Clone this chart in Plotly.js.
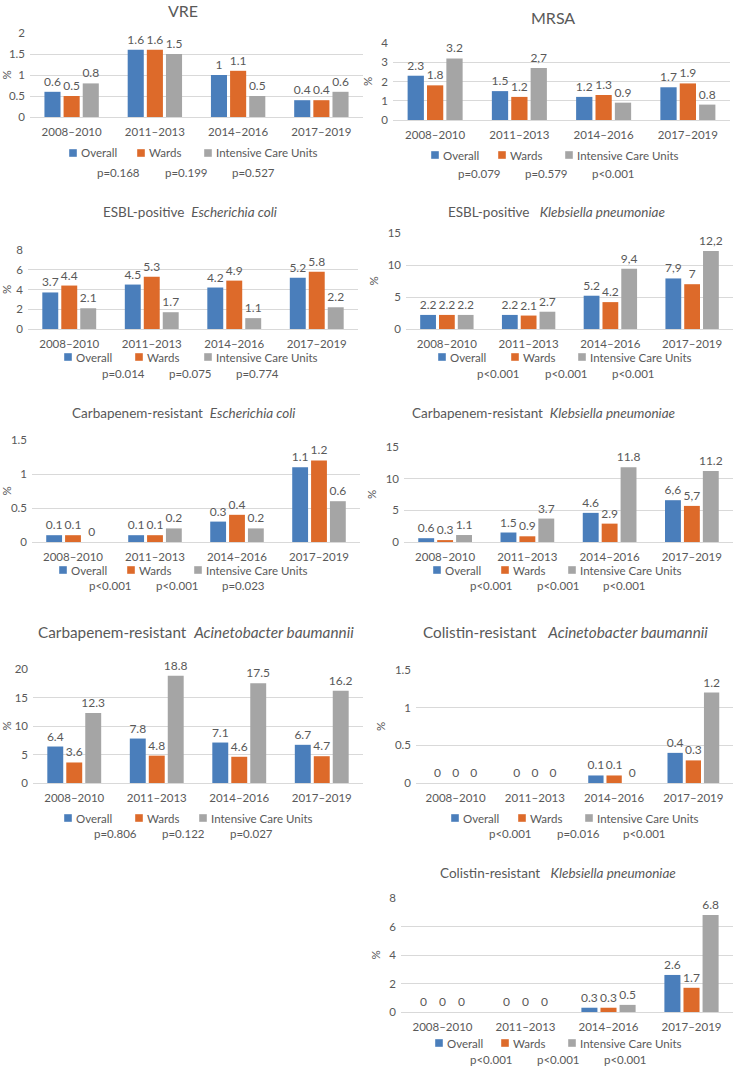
<!DOCTYPE html>
<html><head><meta charset="utf-8">
<script src="https://cdn.plot.ly/plotly-3.0.1.min.js"></script>
<style>html,body{margin:0;padding:0;background:#fff}#chart{width:733px;height:1066px}</style>
</head><body><div id="chart"></div>
<script>
// ---------- data ----------
const periods = ['2008–2010', '2011–2013', '2014–2016', '2017–2019'];
const seriesNames = ['Overall', 'Wards', 'Intensive Care Units'];

const vreOverall = [0.6, 1.6, 1.0, 0.4];
const vreWards   = [0.5, 1.6, 1.1, 0.4];
const vreIcu     = [0.8, 1.5, 0.5, 0.6];
const vreP = ['p=0.168', 'p=0.199', 'p=0.527'];

const mrsaOverall = [2.3, 1.5, 1.2, 1.7];
const mrsaWards   = [1.8, 1.2, 1.3, 1.9];
const mrsaIcu     = [3.2, 2.7, 0.9, 0.8];
const mrsaIcuLabels = ['3.2', '2,7', '0.9', '0.8'];
const mrsaP = ['p=0.079', 'p=0.579', 'p<0.001'];

const esblEcOverall = [3.7, 4.5, 4.2, 5.2];
const esblEcWards   = [4.4, 5.3, 4.9, 5.8];
const esblEcIcu     = [2.1, 1.7, 1.1, 2.2];
const esblEcP = ['p=0.014', 'p=0.075', 'p=0.774'];

const esblKpOverall = [2.2, 2.2, 5.2, 7.9];
const esblKpWards   = [2.2, 2.1, 4.2, 7.0];
const esblKpIcu     = [2.2, 2.7, 9.4, 12.2];
const esblKpOverallLabels = ['2.2', '2.2', '5.2', '7,9'];
const esblKpWardsLabels   = ['2.2', '2.1', '4.2', '7'];
const esblKpIcuLabels     = ['2.2', '2.7', '9,4', '12,2'];
const esblKpP = ['p<0.001', 'p<0.001', 'p<0.001'];

const crEcOverall = [0.1, 0.1, 0.3, 1.1];
const crEcWards   = [0.1, 0.1, 0.4, 1.2];
const crEcIcu     = [0.0, 0.2, 0.2, 0.6];
const crEcP = ['p<0.001', 'p<0.001', 'p=0.023'];

const crKpOverall = [0.6, 1.5, 4.6, 6.6];
const crKpWards   = [0.3, 0.9, 2.9, 5.7];
const crKpIcu     = [1.1, 3.7, 11.8, 11.2];
const crKpOverallLabels = ['0.6', '1.5', '4.6', '6,6'];
const crKpWardsLabels   = ['0.3', '0.9', '2.9', '5,7'];
const crKpP = ['p<0.001', 'p<0.001', 'p<0.001'];

const crAbOverall = [6.4, 7.8, 7.1, 6.7];
const crAbWards   = [3.6, 4.8, 4.6, 4.7];
const crAbIcu     = [12.3, 18.8, 17.5, 16.2];
const crAbP = ['p=0.806', 'p=0.122', 'p=0.027'];

const colAbOverall = [0, 0, 0.1, 0.4];
const colAbWards   = [0, 0, 0.1, 0.3];
const colAbIcu     = [0, 0, 0, 1.2];
const colAbP = ['p<0.001', 'p=0.016', 'p<0.001'];

const colKpOverall = [0, 0, 0.3, 2.6];
const colKpWards   = [0, 0, 0.3, 1.7];
const colKpIcu     = [0, 0, 0.5, 6.8];
const colKpP = ['p<0.001', 'p<0.001', 'p<0.001'];

const NB = '\u00a0';
const panelTitles = [
  'VRE',
  'MRSA',
  'ESBL-positive' + NB + NB + '<i>Escherichia coli</i>',
  'ESBL-positive' + NB + NB + NB + '<i>Klebsiella pneumoniae</i>',
  'Carbapenem-resistant' + NB + NB + '<i>Escherichia coli</i>',
  'Carbapenem-resistant' + NB + NB + '<i>Klebsiella pneumoniae</i>',
  'Carbapenem-resistant' + NB + NB + '<i>Acinetobacter baumannii</i>',
  'Colistin-resistant' + NB + NB + NB + '<i>Acinetobacter baumannii</i>',
  'Colistin-resistant' + NB + NB + NB + '<i>Klebsiella pneumoniae</i>'
];

const fmt = a => a.map(v => String(v));
const panels = [
  {series: [vreOverall, vreWards, vreIcu], labels: [fmt(vreOverall), fmt(vreWards), fmt(vreIcu)], ymax: 2, dtick: 0.5, p: vreP},
  {series: [mrsaOverall, mrsaWards, mrsaIcu], labels: [fmt(mrsaOverall), fmt(mrsaWards), mrsaIcuLabels], ymax: 4, dtick: 1, p: mrsaP},
  {series: [esblEcOverall, esblEcWards, esblEcIcu], labels: [fmt(esblEcOverall), fmt(esblEcWards), fmt(esblEcIcu)], ymax: 8, dtick: 2, p: esblEcP},
  {series: [esblKpOverall, esblKpWards, esblKpIcu], labels: [esblKpOverallLabels, esblKpWardsLabels, esblKpIcuLabels], ymax: 15, dtick: 5, p: esblKpP},
  {series: [crEcOverall, crEcWards, crEcIcu], labels: [fmt(crEcOverall), fmt(crEcWards), fmt(crEcIcu)], ymax: 1.5, dtick: 0.5, p: crEcP},
  {series: [crKpOverall, crKpWards, crKpIcu], labels: [crKpOverallLabels, crKpWardsLabels, fmt(crKpIcu)], ymax: 15, dtick: 5, p: crKpP},
  {series: [crAbOverall, crAbWards, crAbIcu], labels: [fmt(crAbOverall), fmt(crAbWards), fmt(crAbIcu)], ymax: 20, dtick: 5, p: crAbP},
  {series: [colAbOverall, colAbWards, colAbIcu], labels: [fmt(colAbOverall), fmt(colAbWards), fmt(colAbIcu)], ymax: 1.5, dtick: 0.5, p: colAbP},
  {series: [colKpOverall, colKpWards, colKpIcu], labels: [fmt(colKpOverall), fmt(colKpWards), fmt(colKpIcu)], ymax: 8, dtick: 2, p: colKpP}
];

// ---------- geometry (pixels) ----------
const W = 733, H = 1066;
const frames = [
  {l: 30,  r: 363, t: 33,  b: 117,  tx: 183, ty: 10,  ts: 16,   lx: [73, 141, 208], ly: 153,  px: [118, 186, 253], py: 172},
  {l: 393, r: 730, t: 43,  b: 120,  tx: 553, ty: 17,  ts: 16,   lx: [435, 502, 569], ly: 155,  px: [479, 546, 613], py: 173},
  {l: 28,  r: 358, t: 250, b: 329,  tx: 190, ty: 212, ts: 13.5, lx: [68, 139, 208],  ly: 357,  px: [123, 190, 257], py: 373},
  {l: 406, r: 733, t: 233, b: 329,  tx: 556, ty: 212, ts: 13.5, lx: [442, 515, 582], ly: 357,  px: [498, 566, 633], py: 373},
  {l: 32,  r: 360, t: 440, b: 542,  tx: 183, ty: 413, ts: 13.5, lx: [63, 131, 198],  ly: 570,  px: [110, 177, 243], py: 585},
  {l: 404, r: 733, t: 447, b: 542,  tx: 543, ty: 413, ts: 13.5, lx: [437, 505, 572], ly: 570,  px: [491, 558, 624], py: 585},
  {l: 33,  r: 363, t: 669, b: 783,  tx: 196, ty: 632, ts: 15.3, lx: [68, 139, 203],  ly: 818,  px: [115, 183, 251], py: 833},
  {l: 416, r: 733, t: 670, b: 783,  tx: 565, ty: 632, ts: 15.3, lx: [455, 522, 589], ly: 818,  px: [510, 578, 644], py: 833},
  {l: 401, r: 733, t: 898, b: 1012, tx: 558, ty: 873, ts: 13.5, lx: [439, 505, 572], ly: 1043, px: [491, 558, 625], py: 1059}
];

const colors = ['#4a7ebb', '#dd6a2a', '#a5a5a5'];
const FONT = 'Lato, "Open Sans", sans-serif';
const TXT = '#595959';
const GRID = '#d9d9d9';
const SQ = 3.8; // half-size of legend swatch, px

const traces = [];
const annotations = [];
const shapes = [];
const layout = {
  width: W, height: H,
  margin: {l: 0, r: 0, t: 0, b: 0},
  paper_bgcolor: '#ffffff', plot_bgcolor: '#ffffff',
  barmode: 'group', bargap: 0.31, bargroupgap: 0.16,
  showlegend: false,
  font: {family: FONT, color: TXT, size: 11},
  annotations: annotations, shapes: shapes
};

panels.forEach((p, i) => {
  const n = i + 1, s = n > 1 ? String(n) : '';
  const f = frames[i];
  const xa = 'x' + s, ya = 'y' + s;
  p.series.forEach((vals, k) => {
    traces.push({
      type: 'bar', x: periods, y: vals, name: seriesNames[k],
      xaxis: xa, yaxis: ya,
      marker: {color: colors[k], line: {width: 6, color: 'rgba(255,255,255,0)'}},
      text: p.labels[k], textposition: 'outside', constraintext: 'none',
      textfont: {family: FONT, size: 12, color: TXT},
      cliponaxis: false, hoverinfo: 'skip'
    });
    // legend entry: swatch + label
    shapes.push({
      type: 'rect', xref: 'paper', yref: 'paper', layer: 'above',
      x0: (f.lx[k] - SQ) / W, x1: (f.lx[k] + SQ) / W,
      y0: 1 - (f.ly + SQ) / H, y1: 1 - (f.ly - SQ) / H,
      fillcolor: colors[k], line: {width: 0}
    });
    annotations.push({
      xref: 'paper', yref: 'paper', x: (f.lx[k] + SQ + 2.5) / W, y: 1 - f.ly / H,
      xanchor: 'left', yanchor: 'middle', showarrow: false,
      text: seriesNames[k], font: {family: FONT, size: 11.5, color: TXT}
    });
  });
  layout['xaxis' + s] = {
    domain: [f.l / W, f.r / W], anchor: ya, type: 'category',
    showgrid: false, showline: false, zeroline: false,
    ticks: '', ticklabelstandoff: 6,
    tickfont: {family: FONT, size: 11.5, color: TXT}, fixedrange: true
  };
  layout['yaxis' + s] = {
    domain: [1 - f.b / H, 1 - f.t / H], anchor: xa,
    range: [0, p.ymax], dtick: p.dtick, tick0: 0,
    showgrid: true, gridcolor: GRID, gridwidth: 1,
    zeroline: true, zerolinecolor: GRID, zerolinewidth: 1,
    showline: false, ticks: '', ticklabelstandoff: 4,
    tickfont: {family: FONT, size: 11.5, color: TXT},
    title: {text: '%', font: {family: FONT, size: 11.5, color: TXT}, standoff: 6},
    fixedrange: true
  };
  annotations.push({
    xref: 'paper', yref: 'paper', x: f.tx / W, y: 1 - f.ty / H,
    xanchor: 'center', yanchor: 'middle', showarrow: false,
    text: panelTitles[i], font: {family: FONT, size: f.ts, color: TXT}
  });
  p.p.forEach((t, k) => {
    annotations.push({
      xref: 'paper', yref: 'paper', x: f.px[k] / W, y: 1 - f.py / H,
      xanchor: 'center', yanchor: 'middle', showarrow: false,
      text: t, font: {family: FONT, size: 11.5, color: TXT}
    });
  });
});

Plotly.newPlot('chart', traces, layout, {staticPlot: true, displayModeBar: false});
</script>
</body></html>
